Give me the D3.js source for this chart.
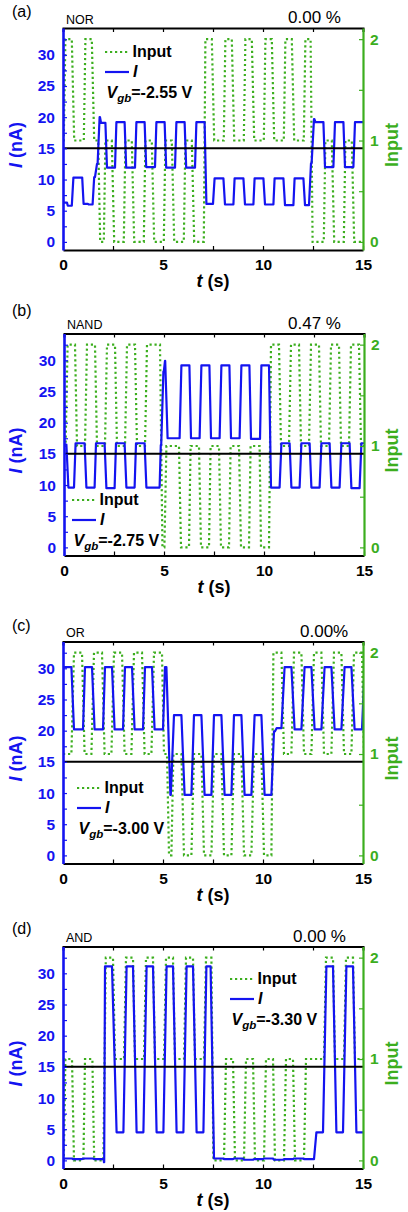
<!DOCTYPE html>
<html>
<head>
<meta charset="utf-8">
<script src="https://cdn.jsdelivr.net/npm/d3@7"></script>
<style>
body { margin: 0; background: #fff; }
svg { display: block; font-family: "Liberation Sans", Arial, Helvetica, sans-serif; }
</style>
</head>
<body>
<svg id="fig" width="408" height="1212"></svg>
<script>
// tick values and labels
var timeTicks = [0, 5, 10, 15];
var timeMinor = [2.5, 7.5, 12.5];
var currentTicks = [0, 5, 10, 15, 20, 25, 30];
var currentMinor = [2.5, 7.5, 12.5, 17.5, 22.5, 27.5, 32.5];
var inputTicks = [0, 1, 2];
var inputMinor = [0.5, 1.5];
var threshold = 15;

var panelTags = ['(a)', '(b)', '(c)', '(d)'];
var gateNames = ['NOR', 'NAND', 'OR', 'AND'];
var errorRates = ['0.00 %', '0.47 %', '0.00%', '0.00 %'];
var gateVoltages = ['-2.55', '-2.75', '-3.00', '-3.30'];

// plateaus: [t start, t end, level]
var inputA = [
  [0, 0.04, 1], [0.12, 0.44, 2], [0.56, 1.04, 1], [1.12, 1.44, 2], [1.56, 1.76, 1],
  [1.86, 2.04, 0], [2.12, 2.44, 1], [2.56, 3.04, 0], [3.12, 3.44, 1], [3.56, 4.04, 0], [4.12, 4.44, 1],
  [4.56, 5.04, 0], [5.12, 5.44, 1], [5.56, 6.04, 0], [6.12, 6.44, 1], [6.56, 7.04, 0],
  [7.12, 7.44, 2], [7.56, 8.04, 1], [8.12, 8.44, 2], [8.56, 9.04, 1], [9.12, 9.44, 2], [9.56, 10.04, 1],
  [10.12, 10.44, 2], [10.56, 11.04, 1], [11.12, 11.44, 2], [11.56, 12.04, 1], [12.12, 12.38, 2],
  [12.48, 13.04, 0], [13.12, 13.44, 1], [13.56, 14.04, 0], [14.12, 14.44, 1], [14.56, 15, 0]
];
var currentA = [
  [0, 0.2, 6.3], [0.24, 0.44, 5.8], [0.52, 0.96, 10.3], [1.03, 1.24, 6.1], [1.28, 1.48, 6.0],
  [1.56, 1.6, 10.4], [1.7, 1.73, 12.5], [1.83, 1.85, 20.0], [1.9, 2.12, 19.1],
  [2.2, 2.6, 11.9], [2.67, 3.08, 19.2], [3.16, 3.6, 11.9], [3.67, 4.08, 19.2], [4.16, 4.6, 12.0],
  [4.67, 5.08, 19.2], [5.16, 5.6, 11.9], [5.67, 6.08, 19.2], [6.16, 6.6, 11.9], [6.67, 7.08, 19.2],
  [7.17, 7.5, 6.1], [7.58, 8.02, 10.2], [8.1, 8.52, 6.0], [8.58, 9.02, 10.2], [9.1, 9.52, 6.0],
  [9.58, 10.02, 10.2], [10.1, 10.52, 6.0], [10.58, 11.02, 10.2], [11.1, 11.52, 5.9], [11.58, 12.02, 10.2],
  [12.1, 12.3, 5.9], [12.4, 12.43, 12.6], [12.55, 12.57, 19.7], [12.62, 13.02, 19.2],
  [13.1, 13.52, 12.0], [13.6, 14.02, 19.2], [14.1, 14.52, 12.0], [14.6, 15, 19.2]
];

var inputB = [
  [0, 0.08, 1], [0.18, 0.55, 2], [0.65, 1.05, 1], [1.15, 1.55, 2], [1.65, 2.05, 1], [2.15, 2.55, 2],
  [2.65, 3.05, 1], [3.15, 3.55, 2], [3.65, 4.05, 1], [4.15, 4.8, 2],
  [4.92, 5.02, 0], [5.12, 5.75, 1], [5.85, 6.25, 0], [6.33, 6.75, 1], [6.85, 7.25, 0], [7.33, 7.75, 1],
  [7.85, 8.25, 0], [8.33, 8.75, 1], [8.85, 9.25, 0], [9.33, 9.78, 1], [9.85, 10.25, 0],
  [10.35, 10.75, 2], [10.85, 11.25, 1], [11.35, 11.75, 2], [11.85, 12.25, 1], [12.35, 12.75, 2],
  [12.85, 13.25, 1], [13.35, 13.75, 2], [13.85, 14.25, 1], [14.35, 14.75, 2], [14.85, 15, 1]
];
var currentB = [
  [0, 0.12, 16.5], [0.22, 0.5, 9.6], [0.58, 1.03, 16.7], [1.12, 1.53, 9.6], [1.6, 2.03, 16.7],
  [2.12, 2.53, 9.5], [2.6, 3.03, 16.7], [3.12, 3.53, 9.6], [3.6, 4.03, 16.7], [4.12, 4.78, 9.6],
  [4.84, 4.86, 16.4], [4.97, 4.99, 28.2], [5.05, 5.06, 29.9], [5.18, 5.78, 17.5], [5.87, 6.27, 29.2],
  [6.35, 6.78, 17.5], [6.87, 7.27, 29.2], [7.35, 7.78, 17.5], [7.87, 8.27, 29.2], [8.35, 8.78, 17.5],
  [8.87, 9.27, 29.2], [9.35, 9.8, 17.4], [9.87, 10.25, 29.2],
  [10.35, 10.78, 9.6], [10.87, 11.28, 16.7], [11.37, 11.78, 9.6], [11.87, 12.28, 16.7], [12.37, 12.78, 9.6],
  [12.87, 13.28, 16.7], [13.37, 13.78, 9.6], [13.87, 14.28, 16.7], [14.37, 14.78, 9.5], [14.87, 15, 16.7]
];

var inputC = [
  [0, 0.42, 1], [0.55, 0.95, 2], [1.08, 1.42, 1], [1.55, 1.95, 2], [2.08, 2.42, 1], [2.55, 2.95, 2],
  [3.08, 3.42, 1], [3.55, 3.95, 2], [4.08, 4.42, 1], [4.55, 4.95, 2], [5.05, 5.2, 1],
  [5.3, 5.42, 0], [5.52, 5.92, 1], [6.05, 6.42, 0], [6.55, 6.92, 1], [7.05, 7.42, 0], [7.55, 7.92, 1],
  [8.05, 8.42, 0], [8.55, 8.92, 1], [9.05, 9.42, 0], [9.55, 9.92, 1], [10.05, 10.42, 0],
  [10.52, 10.92, 2], [11.05, 11.42, 1], [11.55, 11.92, 2], [12.05, 12.42, 1], [12.55, 12.92, 2],
  [13.05, 13.42, 1], [13.55, 13.92, 2], [14.05, 14.42, 1], [14.55, 14.95, 2], [15.05, 15.1, 1]
];
var currentC = [
  [0.02, 0.42, 30.2], [0.55, 1.0, 20.2], [1.1, 1.45, 30.2], [1.58, 2.0, 20.2], [2.1, 2.45, 30.2],
  [2.58, 3.0, 20.2], [3.1, 3.45, 30.2], [3.58, 4.0, 20.2], [4.1, 4.45, 30.2], [4.58, 5.0, 20.2],
  [5.1, 5.17, 30.2], [5.37, 5.39, 9.7], [5.55, 5.92, 22.5], [6.08, 6.42, 9.7], [6.55, 6.92, 22.5],
  [7.08, 7.42, 9.7], [7.55, 7.92, 22.5], [8.08, 8.42, 9.7], [8.55, 8.92, 22.5], [9.08, 9.42, 9.7],
  [9.58, 9.92, 22.5], [10.08, 10.42, 9.7], [10.55, 10.6, 19.9], [10.68, 10.92, 20.4],
  [11.08, 11.42, 30.2], [11.58, 11.92, 20.2], [12.08, 12.42, 30.2], [12.58, 12.92, 20.2],
  [13.08, 13.42, 30.2], [13.58, 13.92, 20.2], [14.08, 14.42, 30.2], [14.58, 14.95, 20.2], [15.08, 15.1, 30.2]
];

var inputD = [
  [0, 0.04, 0], [0.12, 0.45, 1], [0.55, 1.02, 0], [1.1, 1.47, 1], [1.56, 2.02, 0],
  [2.14, 2.5, 2], [2.6, 3.05, 1], [3.15, 3.5, 2], [3.6, 4.05, 1], [4.15, 4.5, 2], [4.6, 5.05, 1],
  [5.15, 5.5, 2], [5.6, 6.05, 1], [6.15, 6.5, 2], [6.6, 7.05, 1], [7.15, 7.42, 2],
  [7.52, 8.05, 0], [8.15, 8.5, 1], [8.6, 9.05, 0], [9.15, 9.5, 1], [9.6, 10.05, 0], [10.15, 10.5, 1],
  [10.6, 11.05, 0], [11.15, 11.5, 1], [11.6, 12.05, 0], [12.15, 13.05, 1],
  [13.15, 13.5, 2], [13.6, 14.05, 1], [14.15, 14.5, 2], [14.6, 15, 1]
];
var currentD = [
  [0, 0.45, 0.3], [0.5, 0.95, 0.2], [1.0, 1.5, 0.3], [1.55, 2.03, 0.2], [2.05, 2.06, -0.3],
  [2.1, 2.45, 31.1], [2.68, 3.02, 4.5], [3.18, 3.5, 31.1], [3.68, 4.02, 4.5], [4.18, 4.5, 31.1],
  [4.68, 5.02, 4.5], [5.18, 5.5, 31.1], [5.68, 6.02, 4.5], [6.18, 6.5, 31.1], [6.68, 7.02, 4.5],
  [7.17, 7.38, 31.1], [7.55, 8.0, 0.3], [8.05, 8.5, 0.2], [8.55, 9.0, 0.3], [9.05, 9.5, 0.1],
  [9.55, 10.0, 0.2], [10.05, 10.5, 0.3], [10.55, 11.0, 0.1], [11.05, 11.5, 0.2], [11.55, 12.0, 0.3],
  [12.05, 12.55, 0.2], [12.67, 13.0, 4.5], [13.17, 13.5, 31.1], [13.67, 14.0, 4.5],
  [14.17, 14.5, 31.1], [14.67, 15.0, 4.5]
];

var inputs = [inputA, inputB, inputC, inputD];
var currents = [currentA, currentB, currentC, currentD];

var BLUE = '#1414f0';
var GREEN = '#3cae1e';
var W = 300, H = 222;

// where each panel sits on the page
var layout = [
  { left: 63, top: 28, tagY: 16.5, errX: 288, legX: 105, legY: 52 },
  { left: 64, top: 333.5, tagY: 315.5, errX: 288, legX: 72, legY: 500 },
  { left: 63, top: 641.5, tagY: 630.5, errX: 300, legX: 77, legY: 788 },
  { left: 63, top: 946.5, tagY: 934, errX: 293, legX: 230, legY: 979 }
];

var svg = d3.select('#fig');
var intFormat = d3.format('d');

function corners(plateaus) {
  var pts = [];
  plateaus.forEach(function(d) {
    pts.push([d[0], d[2]]);
    pts.push([d[1], d[2]]);
  });
  return pts;
}

function styleAxis(sel, color, width) {
  sel.select('.domain').attr('stroke', color).attr('stroke-width', width);
  sel.selectAll('.tick line').attr('stroke', color).attr('stroke-width', 1.2);
  sel.selectAll('.tick text')
    .attr('fill', color)
    .attr('font-size', 15.5)
    .attr('font-weight', 'bold')
    .attr('font-family', '"Liberation Sans", Arial, sans-serif');
}

function drawPanel(i) {
  var p = layout[i];
  var x = d3.scaleLinear().domain([0, 15]).range([0, W]);
  var yI = d3.scaleLinear().domain([-1.3, 34.3]).range([H, 0]);
  var yIn = d3.scaleLinear().domain([-0.08, 2.11]).range([H, 0]);

  var g = svg.append('g').attr('transform', 'translate(' + p.left + ',' + p.top + ')');

  g.append('clipPath').attr('id', 'clip' + i)
    .append('rect').attr('width', W).attr('height', H);

  var plot = g.append('g').attr('clip-path', 'url(#clip' + i + ')');

  plot.append('path')
    .datum(corners(inputs[i]))
    .attr('fill', 'none')
    .attr('stroke', GREEN)
    .attr('stroke-width', 2.2)
    .attr('stroke-dasharray', '2.2,2.8')
    .attr('d', d3.line().x(function(d) { return x(d[0]); }).y(function(d) { return yIn(d[1]); }));

  plot.append('path')
    .datum(corners(currents[i]))
    .attr('fill', 'none')
    .attr('stroke', BLUE)
    .attr('stroke-width', 2.2)
    .attr('stroke-linejoin', 'round')
    .attr('d', d3.line().x(function(d) { return x(d[0]); }).y(function(d) { return yI(d[1]); }));

  plot.append('line')
    .attr('x1', x(0)).attr('x2', x(15))
    .attr('y1', yI(threshold)).attr('y2', yI(threshold))
    .attr('stroke', '#000').attr('stroke-width', 2);

  // minor ticks first, then the labelled axes on top
  g.append('g').attr('transform', 'translate(0,' + H + ')')
    .call(d3.axisBottom(x).tickValues(timeMinor).tickSize(-4).tickFormat(''))
    .call(styleAxis, '#000', 0);
  g.append('g')
    .call(d3.axisTop(x).tickValues(timeTicks.concat(timeMinor)).tickSize(-4).tickFormat(''))
    .call(styleAxis, '#000', 2);
  g.append('g')
    .call(d3.axisLeft(yI).tickValues(currentMinor).tickSize(-4).tickFormat(''))
    .call(styleAxis, BLUE, 0);
  g.append('g').attr('transform', 'translate(' + W + ',0)')
    .call(d3.axisRight(yIn).tickValues(inputMinor).tickSize(-4).tickFormat(''))
    .call(styleAxis, GREEN, 0);

  g.append('g').attr('transform', 'translate(0,' + H + ')')
    .call(d3.axisBottom(x).tickValues(timeTicks).tickFormat(intFormat)
      .tickSizeInner(-4).tickSizeOuter(0).tickPadding(9))
    .call(styleAxis, '#000', 2);
  g.append('g')
    .call(d3.axisLeft(yI).tickValues(currentTicks).tickFormat(intFormat)
      .tickSizeInner(-4).tickSizeOuter(0).tickPadding(8))
    .call(styleAxis, BLUE, 2.6);
  g.append('g').attr('transform', 'translate(' + W + ',0)')
    .call(d3.axisRight(yIn).tickValues(inputTicks).tickFormat(intFormat)
      .tickSizeInner(-4).tickSizeOuter(0).tickPadding(7))
    .call(styleAxis, GREEN, 2.2);

  // axis titles
  var tt = g.append('text')
    .attr('x', W / 2).attr('y', H + 37)
    .attr('text-anchor', 'middle')
    .attr('font-size', 18).attr('font-weight', 'bold');
  tt.append('tspan').attr('font-style', 'italic').text('t');
  tt.append('tspan').text(' (s)');

  var yt = svg.append('text')
    .attr('transform', 'translate(22,' + (p.top + 117) + ') rotate(-90)')
    .attr('text-anchor', 'middle')
    .attr('fill', BLUE)
    .attr('font-size', 18).attr('font-weight', 'bold');
  yt.append('tspan').attr('font-style', 'italic').text('I');
  yt.append('tspan').text(' (nA)');

  svg.append('text')
    .attr('transform', 'translate(398,' + (p.top + 117) + ') rotate(-90)')
    .attr('text-anchor', 'middle')
    .attr('fill', GREEN)
    .attr('font-size', 18).attr('font-weight', 'bold')
    .text('Input');

  // panel tag, gate name and error rate
  svg.append('text').attr('x', 12).attr('y', p.tagY)
    .attr('font-size', 16).text(panelTags[i]);
  svg.append('text').attr('x', p.left + 3).attr('y', p.top - 4.5)
    .attr('font-size', 12.5).text(gateNames[i]);
  svg.append('text').attr('x', p.errX).attr('y', p.top - 5)
    .attr('font-size', 17).text(errorRates[i]);

  // legend
  svg.append('line')
    .attr('x1', p.legX).attr('x2', p.legX + 25)
    .attr('y1', p.legY).attr('y2', p.legY)
    .attr('stroke', GREEN).attr('stroke-width', 2.2).attr('stroke-dasharray', '2.2,2.8');
  svg.append('text').attr('x', p.legX + 27.5).attr('y', p.legY + 4.5)
    .attr('font-size', 16).attr('font-weight', 'bold').text('Input');
  svg.append('line')
    .attr('x1', p.legX).attr('x2', p.legX + 24)
    .attr('y1', p.legY + 20).attr('y2', p.legY + 20)
    .attr('stroke', BLUE).attr('stroke-width', 2.2);
  svg.append('text').attr('x', p.legX + 28).attr('y', p.legY + 24.5)
    .attr('font-size', 16).attr('font-weight', 'bold').attr('font-style', 'italic').text('I');

  var vg = svg.append('text').attr('x', p.legX + 1.5).attr('y', p.legY + 45.5)
    .attr('font-size', 16).attr('font-weight', 'bold');
  vg.append('tspan').attr('font-style', 'italic').text('V');
  vg.append('tspan').attr('font-style', 'italic').attr('font-size', 11.5).attr('dy', 4).text('gb');
  vg.append('tspan').attr('dy', -4).text('=' + gateVoltages[i] + ' V');
}

for (var i = 0; i < 4; i++) drawPanel(i);
</script>
</body>
</html>
